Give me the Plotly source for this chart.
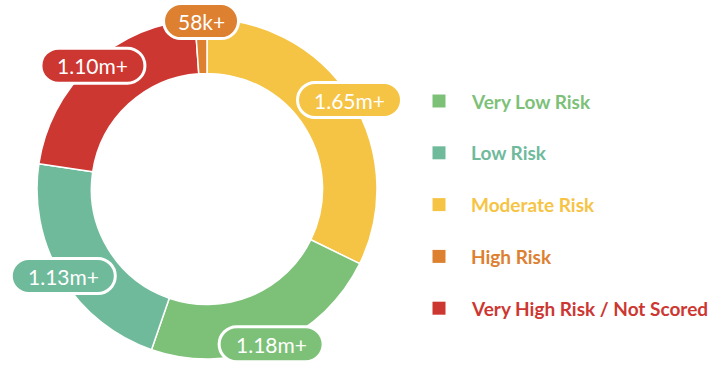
import math
import plotly.graph_objects as go

# Portfolio risk breakdown (counts, in millions)
categories = ["Very Low Risk", "Low Risk", "Moderate Risk", "High Risk", "Very High Risk / Not Scored"]
values = [1.18, 1.13, 1.65, 0.058, 1.10]
value_labels = ["1.18m+", "1.13m+", "1.65m+", "58k+", "1.10m+"]
colors = ["#7DC178", "#70BA9C", "#F6C445", "#DD8030", "#CD3732"]

# clockwise drawing order of the ring, starting at 12 o'clock
draw_order = [2, 0, 1, 4, 3]

W, H = 725, 371
CX, CY, R = 207, 189, 170
HOLE = 0.68
LABEL_R = 168
FONT = "Lato"

fig = go.Figure()

fig.add_trace(go.Pie(
    labels=[categories[i] for i in draw_order],
    values=[values[i] for i in draw_order],
    marker=dict(colors=[colors[i] for i in draw_order], line=dict(color="white", width=1.5)),
    hole=HOLE,
    sort=False,
    direction="clockwise",
    rotation=0,
    textinfo="none",
    hoverinfo="label+value",
    showlegend=False,
    domain=dict(x=[(CX - R) / W, (CX + R) / W], y=[1 - (CY + R) / H, 1 - (CY - R) / H]),
))


def pill_path(cx, cy, w, h):
    r = h / 2
    k = 0.5523 * r
    x0, x1 = cx - w / 2 + r, cx + w / 2 - r
    t, b = cy - r, cy + r
    return (f"M {x0},{t} L {x1},{t} "
            f"C {x1 + k},{t} {x1 + r},{cy - k} {x1 + r},{cy} "
            f"C {x1 + r},{cy + k} {x1 + k},{b} {x1},{b} "
            f"L {x0},{b} "
            f"C {x0 - k},{b} {x0 - r},{cy + k} {x0 - r},{cy} "
            f"C {x0 - r},{cy - k} {x0 - k},{t} {x0},{t} Z")


# value pills at each slice's mid-angle on the outer edge
total = sum(values)
start = 0.0
shapes, annotations = [], []
for i in draw_order:
    sweep = 360 * values[i] / total
    mid = math.radians(start + sweep / 2)
    start += sweep
    px = CX + LABEL_R * math.sin(mid)
    py = CY - LABEL_R * math.cos(mid)
    text = value_labels[i]
    w = 14.5 * len(text) + 17
    shapes.append(dict(type="path", xref="x", yref="y", path=pill_path(px, py, w, 35),
                       fillcolor=colors[i], line=dict(color="white", width=3), layer="above"))
    annotations.append(dict(x=px, y=py, xref="x", yref="y", text=text, showarrow=False,
                            font=dict(family=FONT, size=21, color="white"),
                            xanchor="center", yanchor="middle"))

# legend: square swatches and coloured captions
LEG_X, LEG_TEXT_X, LEG_Y0, LEG_DY = 439, 469, 101, 51.8
leg_y = [LEG_Y0 + k * LEG_DY for k in range(len(categories))]
fig.add_trace(go.Scatter(
    x=[LEG_X] * len(categories), y=leg_y, mode="markers",
    marker=dict(symbol="square", size=13, color=colors),
    hoverinfo="skip", showlegend=False,
))
for k, name in enumerate(categories):
    annotations.append(dict(x=LEG_TEXT_X, y=leg_y[k], xref="x", yref="y", text=name,
                            showarrow=False, xanchor="left", yanchor="middle",
                            font=dict(family=FONT, size=19, color=colors[k], weight=700)))

fig.update_layout(
    width=W, height=H,
    margin=dict(l=0, r=0, t=0, b=0),
    paper_bgcolor="white", plot_bgcolor="white",
    xaxis=dict(range=[0, W], visible=False, fixedrange=True, domain=[0, 1]),
    yaxis=dict(range=[H, 0], visible=False, fixedrange=True, domain=[0, 1]),
    shapes=shapes, annotations=annotations,
    showlegend=False,
)

fig.write_html("out.html")
